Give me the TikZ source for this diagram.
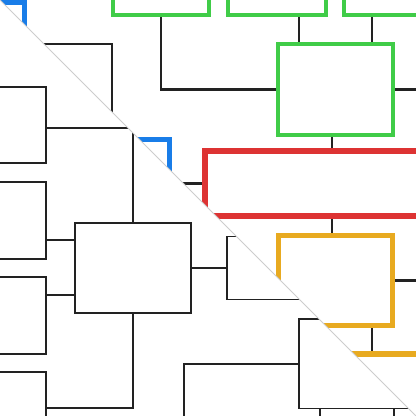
\documentclass[tikz,border=0pt]{standalone}
\usepackage{tikz}
\definecolor{boxgreen}{RGB}{64,204,72}
\definecolor{boxred}{RGB}{221,51,51}
\definecolor{boxorange}{RGB}{232,170,32}
\definecolor{boxblue}{RGB}{25,125,232}
\definecolor{wiregray}{RGB}{34,34,34}
\definecolor{splitgray}{RGB}{205,205,205}

\begin{document}
\begin{tikzpicture}[x=0.025cm,y=-0.025cm,
    sz/.style 2 args={minimum width=#1*0.025cm,minimum height=#2*0.025cm,inner sep=0pt},
    greenbox/.style={draw=boxgreen,line width=3.3pt},
    redbox/.style={draw=boxred,line width=4.3pt},
    orangebox/.style={draw=boxorange,line width=3.6pt},
    bluebox/.style={draw=boxblue,line width=3.2pt},
    plainbox/.style={draw=wiregray,line width=1.4pt},
    wire/.style={draw=wiregray,line width=1.5pt}]
    %frame
    \useasboundingbox (0,0) rectangle (416,416);
    \fill[white] (0,0) rectangle (416,416);

    %upper right half
    \begin{scope}
    \clip (0,0) -- (416,0) -- (416,416) -- cycle;
    \node[bluebox,sz={115}{83}] (blueA) at (-33,44) {};
    \node[bluebox,sz={115}{88}] (blueB) at (112,183.5) {};
    \node[greenbox,sz={96}{55}] (greenA) at (161,-12.5) {};
    \node[greenbox,sz={98}{55}] (greenB) at (277,-12.5) {};
    \node[greenbox,sz={116}{55}] (greenC) at (402,-12.5) {};
    \node[greenbox,sz={115}{91}] (greenD) at (335.5,89.5) {};
    \node[redbox,sz={295}{65}] (redA) at (352.5,183.5) {};
    \node[orangebox,sz={114}{90}] (orangeA) at (335.5,280.5) {};
    \node[orangebox,sz={180}{90}] (orangeB) at (390,399) {};
    \coordinate (gx1) at (299,0);
    \coordinate (gx2) at (372,0);
    \coordinate (spine) at (332,0);
    \coordinate (outG) at (440,89.5);
    \coordinate (outO) at (440,280.5);
    %connectors
    \draw[wire] (blueA.east) -| (blueB.north);
    \draw[wire] (blueB.east) -- (redA.west);
    \draw[wire] (greenA.south) |- (greenD.west);
    \draw[wire] (greenB.south -| gx1) -- (greenD.north -| gx1);
    \draw[wire] (greenC.south -| gx2) -- (greenD.north -| gx2);
    \draw[wire] (greenD.east) -- (outG);
    \draw[wire] (greenD.south -| spine) -- (redA.north -| spine);
    \draw[wire] (redA.south -| spine) -- (orangeA.north -| spine);
    \draw[wire] (orangeA.east) -- (outO);
    \draw[wire] (orangeA.south -| gx2) -- (orangeB.north -| gx2);
    \end{scope}

    %lower left half
    \begin{scope}
    \clip (0,0) -- (0,416) -- (416,416) -- cycle;
    \node[plainbox,sz={106}{76}] (leafA) at (-7,125) {};
    \node[plainbox,sz={106}{77}] (leafB) at (-7,220.5) {};
    \node[plainbox,sz={106}{77}] (leafC) at (-7,315.5) {};
    \node[plainbox,sz={106}{77}] (leafD) at (-7,410.5) {};
    \node[plainbox,sz={116}{90}] (midL) at (133,268) {};
    \node[plainbox,sz={113}{63}] (midR) at (283.5,268) {};
    \node[plainbox,sz={116}{89.5}] (lowS) at (357,363.75) {};
    \coordinate (y1) at (0,128);
    \coordinate (y2) at (0,240);
    \coordinate (y3) at (0,295);
    \coordinate (y4) at (0,408);
    \coordinate (downS) at (184,440);
    \coordinate (s1) at (320,440);
    \coordinate (s2) at (394,440);
    %connectors
    \draw[wire] (midL.north) |- (y1 -| leafA.east);
    \draw[wire] (y2 -| leafB.east) -- (y2 -| midL.west);
    \draw[wire] (y3 -| leafC.east) -- (y3 -| midL.west);
    \draw[wire] (midL.south) |- (y4 -| leafD.east);
    \draw[wire] (midL.east) -- (midR.west);
    \draw[wire] (lowS.west) -| (downS);
    \draw[wire] (s1 |- lowS.south) -- (s1);
    \draw[wire] (s2 |- lowS.south) -- (s2);
    \end{scope}

    %split line
    \draw[splitgray,line width=0.7pt] (0,0) -- (416,416);
\end{tikzpicture}
\end{document}
